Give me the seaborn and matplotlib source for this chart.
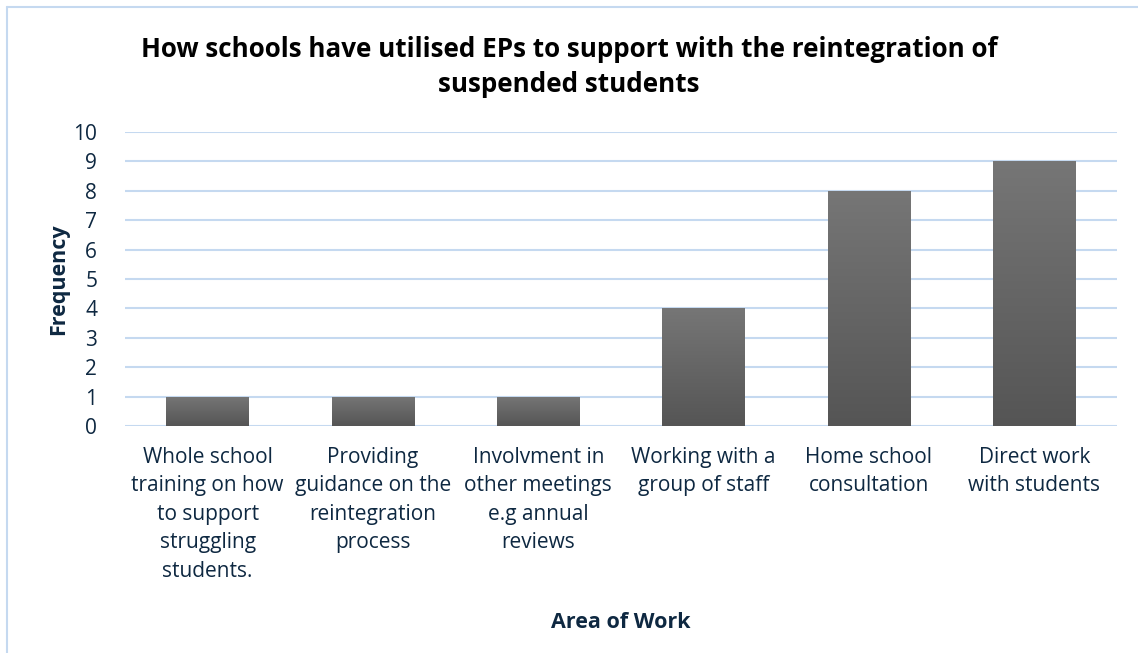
import numpy as np
import pandas as pd
import matplotlib
matplotlib.use("Agg")
import matplotlib.pyplot as plt
import seaborn as sns
from matplotlib.colors import LinearSegmentedColormap

categories = [
    "Whole school\ntraining on how\nto support\nstruggling\nstudents.",
    "Providing\nguidance on the\nreintegration\nprocess",
    "Involvment in\nother meetings\ne.g annual\nreviews",
    "Working with a\ngroup of staff",
    "Home school\nconsultation",
    "Direct work\nwith students",
]
frequency = [1, 1, 1, 4, 8, 9]
y_ticks = list(range(0, 11))

title = "How schools have utilised EPs to support with the reintegration of\nsuspended students"
x_label = "Area of Work"
y_label = "Frequency"

sns.set_theme(style="white")
plt.rcParams['font.family'] = ['Open Sans', 'DejaVu Sans']

navy = "#0E2841"
grid_c = "#C5D9F0"

df = pd.DataFrame({"cat": categories, "freq": frequency})

fig = plt.figure(figsize=(11.38, 6.53), dpi=100)
ax = fig.add_axes([125/1138, 1-426/653, (1117-125)/1138, (426-132)/653])

sns.barplot(data=df, x="cat", y="freq", color="#606060", width=0.5, ax=ax, zorder=3)

cmap = LinearSegmentedColormap.from_list("g", ["#555555", "#767676"])
grad = np.linspace(0, 1, 256).reshape(-1, 1)
for p in ax.patches:
    x0 = p.get_x(); w = p.get_width(); h = p.get_height()
    im = ax.imshow(grad, cmap=cmap, origin="lower", aspect="auto",
                   extent=(x0, x0 + w, 0, h), zorder=3)
    im.set_clip_path(p)
    p.set_facecolor("none")
    p.set_edgecolor("none")

ax.set_xlim(-0.5, len(categories) - 0.5)
ax.set_ylim(0, 10)
ax.set_yticks(y_ticks)
ax.yaxis.grid(True, color=grid_c, linewidth=1.5, zorder=0)
ax.set_axisbelow(True)
for s in ax.spines.values():
    s.set_visible(False)
ax.tick_params(axis="both", length=0, labelsize=15, labelcolor=navy)
ax.tick_params(axis="x", pad=15)
ax.tick_params(axis="y", pad=20)
for t in ax.get_xticklabels():
    t.set_linespacing(1.47)

ax.set_xlabel(x_label, fontsize=15.5, fontweight="bold", color=navy)
ax.set_ylabel(y_label, fontsize=15.5, fontweight="bold", color=navy)
ax.xaxis.set_label_coords(0.5, -(612-426)/294)
ax.yaxis.set_label_coords(-(125-69)/992, 0.5)

fig.text(569/1138, 1-67/653, title, ha="center", va="center", fontsize=18.7,
         fontweight="bold", color="black", linespacing=1.42)

# outer border (top and left visible)
fig.add_artist(plt.Line2D([7/1138, 1], [1-7/653, 1-7/653], color=grid_c, lw=1.5, transform=fig.transFigure))
fig.add_artist(plt.Line2D([7/1138, 7/1138], [0, 1-7/653], color=grid_c, lw=1.5, transform=fig.transFigure))

fig.savefig("out.png", dpi=100)
